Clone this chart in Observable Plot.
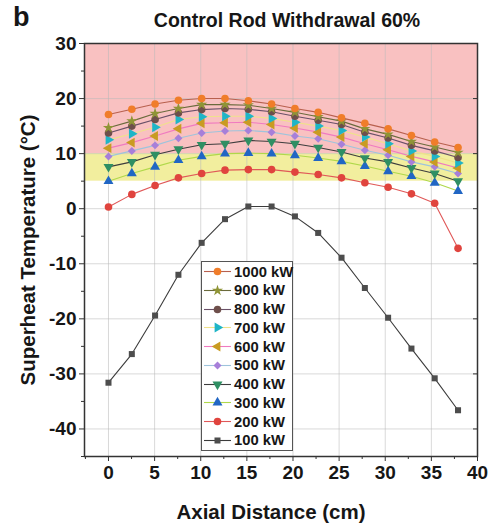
<!DOCTYPE html>
<html><head><meta charset="utf-8">
<script src="https://cdn.jsdelivr.net/npm/d3@7"></script>
<script src="https://cdn.jsdelivr.net/npm/@observablehq/plot@0.6"></script>
<style>
body{margin:0;background:#fff;}
#wrap{position:relative;width:489px;height:527px;font-family:"Liberation Sans",Arial,sans-serif;font-weight:bold;color:#161616;overflow:hidden;}
#wrap svg.main{position:absolute;left:0;top:0;}
.ov{position:absolute;white-space:nowrap;}
#panel{left:13px;top:2px;font-size:27px;line-height:30px;}
#title{left:87px;width:400px;text-align:center;top:8px;font-size:19.5px;line-height:24px;}
#xlab{left:71px;width:400px;text-align:center;top:500px;font-size:20.5px;line-height:24px;}
#ylab{left:28px;top:250px;font-size:20.5px;line-height:24px;transform:translate(-50%,-50%) rotate(-90deg);}
#legend{left:201px;top:261px;width:92px;height:190px;background:#fff;border:1px solid #555;box-sizing:border-box;}
.lrow{position:absolute;left:0;height:19px;display:flex;align-items:center;font-size:14.8px;}
.lrow svg{display:block;}
</style></head>
<body>
<div id="wrap">
  <div class="ov" id="panel">b</div>
  <div class="ov" id="title">Control Rod Withdrawal 60%</div>
  <div class="ov" id="xlab">Axial Distance (cm)</div>
  <div class="ov" id="ylab">Superheat Temperature (°C)</div>
</div>
<script>
// ---- data ----
const axial = [0, 2.53, 5.05, 7.58, 10.1, 12.63, 15.16, 17.68, 20.21, 22.73, 25.26, 27.79, 30.31, 32.84, 35.36, 37.89];
const t1000 = [17.1, 18.05, 19.0, 19.7, 20.0, 20.0, 19.6, 19.0, 18.2, 17.5, 16.5, 15.5, 14.5, 13.3, 12.1, 11.1];
const t900  = [14.7, 15.9, 17.3, 18.2, 18.9, 18.9, 18.8, 18.2, 17.5, 16.7, 15.9, 14.5, 13.5, 12.2, 11.2, 10.2];
const t800  = [13.75, 15.0, 16.2, 17.4, 18.0, 18.2, 18.05, 17.6, 16.8, 16.05, 15.3, 13.9, 12.85, 11.5, 10.5, 9.3];
const t700  = [12.5, 13.6, 14.8, 16.2, 16.7, 16.8, 16.8, 16.4, 15.7, 15.0, 14.2, 13.0, 11.8, 10.5, 9.5, 8.3];
const t600  = [11.0, 12.0, 13.2, 14.5, 15.5, 15.6, 15.7, 15.3, 14.65, 13.9, 13.0, 11.8, 10.7, 9.5, 8.5, 7.4];
const t500  = [9.5, 10.5, 11.5, 12.8, 13.75, 14.1, 14.2, 13.9, 13.2, 12.7, 11.7, 10.6, 9.7, 8.5, 7.6, 6.4];
const t400  = [7.6, 8.5, 9.8, 10.8, 11.6, 11.8, 12.4, 12.2, 11.8, 11.1, 10.3, 9.2, 8.5, 7.4, 6.4, 5.0];
const t300  = [5.0, 6.4, 7.6, 8.8, 9.5, 10.0, 10.1, 10.0, 9.7, 9.2, 8.6, 7.75, 6.8, 5.9, 4.7, 3.2];
const t200  = [0.3, 2.6, 4.2, 5.6, 6.4, 7.0, 7.1, 7.1, 6.65, 6.2, 5.6, 4.7, 3.9, 2.7, 1.0, -7.2];
const t100  = [-31.6, -26.4, -19.4, -12.0, -6.2, -1.9, 0.4, 0.4, -1.4, -4.4, -8.9, -14.4, -19.8, -25.4, -30.8, -36.6];

const seriesNames  = ["1000 kW", "900 kW", "800 kW", "700 kW", "600 kW", "500 kW", "400 kW", "300 kW", "200 kW", "100 kW"];
const seriesValues = [t1000, t900, t800, t700, t600, t500, t400, t300, t200, t100];
const markerColors = ["#f07d2a", "#8f9436", "#6e4f4b", "#1fb5c7", "#c99b22", "#a77fd9", "#2f8f63", "#2166c4", "#e0443e", "#4d4d4d"];
const lineColors   = ["#b8604e", "#6a6a3c", "#6a5068", "#efe28a", "#f07ac0", "#9ec4dc", "#3d3d3d", "#b0d84a", "#e05858", "#3c3c3c"];
const symbolKinds  = ["circle", "star", "circle", "triRight", "triLeft", "diamond", "triDown", "triangle", "circle", "square"];

const xTicks = [0, 5, 10, 15, 20, 25, 30, 35, 40];
const yTicks = [-40, -30, -20, -10, 0, 10, 20, 30];
const xMinor = [-2.5, 2.5, 7.5, 12.5, 17.5, 22.5, 27.5, 32.5, 37.5];
const yMinor = [-45, -35, -25, -15, -5, 5, 15, 25];
const bandLow  = [5, 10];   // yellow band
const bandHigh = [10, 30];  // pink band

// ---- symbols ----
const sqrt3 = Math.sqrt(3);
function tri(rot) {
  return {draw(ctx, size) {
    const y = -Math.sqrt(size / (sqrt3 * 3));
    const p = [[0, 2 * y], [-sqrt3 * y, -y], [sqrt3 * y, -y]].map(([a, b]) => rot(a, b));
    ctx.moveTo(p[0][0], p[0][1]); ctx.lineTo(p[1][0], p[1][1]); ctx.lineTo(p[2][0], p[2][1]); ctx.closePath();
  }};
}
const symbolMap = {
  circle: d3.symbolCircle, star: d3.symbolStar, square: d3.symbolSquare, diamond: d3.symbolDiamond2,
  triangle: tri((a, b) => [a, b]), triDown: tri((a, b) => [a, -b]),
  triRight: tri((a, b) => [-b, a]), triLeft: tri((a, b) => [b, -a])
};
const symbolR = {circle: 3.8, star: 3.5, square: 3.4, diamond: 3.6, triangle: 3.7, triDown: 3.7, triRight: 3.7, triLeft: 3.7};

const series = seriesNames.map((name, k) => ({
  name, color: markerColors[k], line: lineColors[k], kind: symbolKinds[k],
  data: axial.map((x, i) => ({x, y: seriesValues[k][i]}))
}));

const seriesMarks = [];
for (const s of series.slice().reverse()) {
  seriesMarks.push(Plot.line(s.data, {x: "x", y: "y", stroke: s.line, strokeWidth: 1.1}));
  seriesMarks.push(Plot.dot(s.data, {x: "x", y: "y", symbol: symbolMap[s.kind], r: symbolR[s.kind], fill: s.color, stroke: "none"}));
}

const font = "'Liberation Sans', Arial, sans-serif";
const chart = Plot.plot({
  width: 489, height: 527,
  marginTop: 43, marginLeft: 84, marginRight: 12, marginBottom: 71,
  style: {fontFamily: font, fontSize: "19px", fontWeight: "bold", color: "#161616", background: "transparent", overflow: "visible"},
  x: {domain: [-2.6, 40]},
  y: {domain: [-45, 30]},
  marks: [
    Plot.rect([{lo: bandHigh[0], hi: bandHigh[1]}], {y1: "lo", y2: "hi", fill: "#f9c1c1"}),
    Plot.rect([{lo: bandLow[0], hi: bandLow[1]}], {y1: "lo", y2: "hi", fill: "#f2ee9e"}),
    Plot.gridX({ticks: xTicks.slice(0, -1), stroke: "#b9b9b9", strokeOpacity: 0.55, strokeWidth: 1}),
    Plot.gridY({ticks: yTicks.slice(0, -1), stroke: "#b9b9b9", strokeOpacity: 0.55, strokeWidth: 1}),
    ...seriesMarks,
    Plot.axisX({ticks: xTicks, tickSize: 5, tickPadding: 4, label: null, stroke: "#333"}),
    Plot.axisX({ticks: xMinor, tickSize: 3, tickFormat: () => "", label: null, stroke: "#333"}),
    Plot.axisY({ticks: yTicks, tickSize: 5, tickPadding: 3, label: null, stroke: "#333", tickFormat: d => d}),
    Plot.axisY({ticks: yMinor, tickSize: 3, tickFormat: () => "", label: null, stroke: "#333"}),
    Plot.axisY({anchor: "right", ticks: yTicks, tickSize: -5, tickFormat: () => "", label: null, stroke: "#333"}),
    Plot.frame({stroke: "#333", strokeWidth: 1.5})
  ]
});
chart.classList.add("main");
const wrap = document.getElementById("wrap");
wrap.insertBefore(chart, wrap.firstChild);

// ---- legend ----
const legend = document.createElement("div");
legend.className = "ov"; legend.id = "legend";
series.forEach((s, k) => {
  const row = document.createElement("div");
  row.className = "lrow";
  row.style.top = (0.2 + k * 18.75) + "px";
  const svg = d3.create("svg").attr("width", 31).attr("height", 19);
  svg.append("line").attr("x1", 2).attr("x2", 29).attr("y1", 9.5).attr("y2", 9.5).attr("stroke", s.line).attr("stroke-width", 1.1);
  const r = symbolR[s.kind];
  svg.append("path").attr("transform", "translate(15.5,9.5)")
    .attr("d", d3.symbol(symbolMap[s.kind], Math.PI * r * r)()).attr("fill", s.color);
  row.appendChild(svg.node());
  const t = document.createElement("span");
  t.textContent = s.name; t.style.marginLeft = "1px";
  row.appendChild(t);
  legend.appendChild(row);
});
wrap.appendChild(legend);
</script>
</body></html>
